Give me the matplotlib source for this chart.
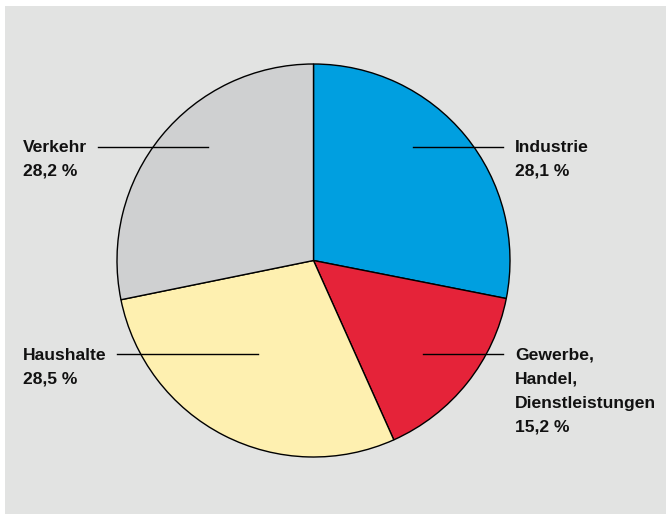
import matplotlib
matplotlib.use("Agg")
import matplotlib.pyplot as plt
from matplotlib.patches import Rectangle

# Data
categories = ["Industrie", "Gewerbe, Handel, Dienstleistungen", "Haushalte", "Verkehr"]
values = [28.1, 15.2, 28.5, 28.2]
label_lines = [
    ["Industrie", "28,1 %"],
    ["Gewerbe,", "Handel,", "Dienstleistungen", "15,2 %"],
    ["Haushalte", "28,5 %"],
    ["Verkehr", "28,2 %"],
]
colors = ["#009fe0", "#e52339", "#fef0b0", "#cfd0d1"]

W, H = 666, 519
fig = plt.figure(figsize=(W / 100, H / 100), dpi=100, facecolor="white")
ax = fig.add_axes([0, 0, 1, 1])

def py(y):
    return H - y

# gray background panel
ax.add_patch(Rectangle((5, py(514)), W - 5, 514 - 6, facecolor="#e2e3e2",
                       edgecolor="none", zorder=0))

ax.pie(values, colors=colors, startangle=90, counterclock=False,
       center=(313.5, py(260.5)), radius=196.5,
       wedgeprops=dict(edgecolor="black", linewidth=1.0),
       frame=True)

ax.set_xlim(0, W)
ax.set_ylim(0, H)
ax.set_aspect("equal")
ax.axis("off")

# leader lines and labels (layout positions in pixels)
layout = [
    # (text_x, first_baseline_y, line_x0, line_x1, line_y)
    (515, 152, 413, 503, 147.3),
    (515, 360, 423, 503, 354.3),
    (23, 360, 117, 258, 354.3),
    (23, 152, 98, 208, 147.3),
]
font = dict(family=["Liberation Sans", "DejaVu Sans"], fontsize=12.6,
            fontweight="bold", color="#111111")
for lines, (tx, ty, x0, x1, ly) in zip(label_lines, layout):
    ax.plot([x0, x1], [py(ly), py(ly)], color="black", linewidth=1.0, zorder=5)
    for i, s in enumerate(lines):
        ax.text(tx, py(ty + 24 * i), s, ha="left", va="baseline", **font)

fig.savefig("out.png", dpi=100, facecolor="white")
